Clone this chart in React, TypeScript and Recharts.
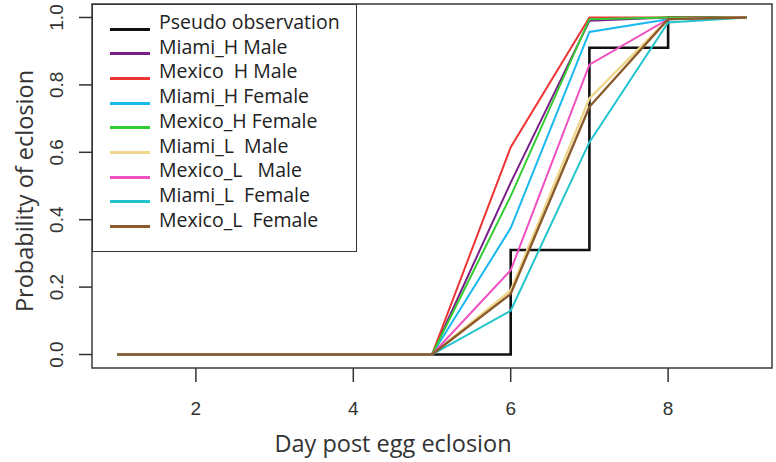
import React from "react";
import { LineChart, Line, XAxis, YAxis, ReferenceArea } from "recharts";

const days = [1, 2, 3, 4, 5, 6, 7, 8, 9];
const pseudoObservation = [0, 0, 0, 0, 0, 0.31, 0.91, 1, 1];
const miamiHMale = [0, 0, 0, 0, 0, 0.51, 0.99, 1, 1];
const mexicoHMale = [0, 0, 0, 0, 0, 0.615, 1, 1, 1];
const miamiHFemale = [0, 0, 0, 0, 0, 0.375, 0.957, 0.995, 1];
const mexicoHFemale = [0, 0, 0, 0, 0, 0.47, 0.995, 1, 1];
const miamiLMale = [0, 0, 0, 0, 0, 0.19, 0.76, 0.995, 1];
const mexicoLMale = [0, 0, 0, 0, 0, 0.25, 0.86, 0.995, 1];
const miamiLFemale = [0, 0, 0, 0, 0, 0.13, 0.63, 0.985, 1];
const mexicoLFemale = [0, 0, 0, 0, 0, 0.18, 0.735, 0.995, 1];

const xTicks = [2, 4, 6, 8];
const yTicks = [0, 0.2, 0.4, 0.6, 0.8, 1.0];

const series = [
  { key: "pseudo", name: "Pseudo observation", values: pseudoObservation, color: "#111111", width: 2.6, step: true },
  { key: "miamiHM", name: "Miami_H Male", values: miamiHMale, color: "#7a1f8a", width: 2 },
  { key: "mexicoHM", name: "Mexico  H Male", values: mexicoHMale, color: "#ee3535", width: 2 },
  { key: "miamiHF", name: "Miami_H Female", values: miamiHFemale, color: "#1ab8f0", width: 2 },
  { key: "mexicoHF", name: "Mexico_H Female", values: mexicoHFemale, color: "#33cc33", width: 2 },
  { key: "miamiLM", name: "Miami_L  Male", values: miamiLMale, color: "#f0d68a", width: 2.4 },
  { key: "mexicoLM", name: "Mexico_L   Male", values: mexicoLMale, color: "#f050c0", width: 2 },
  { key: "miamiLF", name: "Miami_L  Female", values: miamiLFemale, color: "#22c4cc", width: 2 },
  { key: "mexicoLF", name: "Mexico_L  Female", values: mexicoLFemale, color: "#8b5a2b", width: 2.4 },
];

const data = days.map((d, i) => {
  const row: Record<string, number> = { day: d };
  series.forEach((s) => {
    row[s.key] = s.values[i];
  });
  return row;
});

const labelFont = "'Open Sans', Lato, sans-serif";
const tickFont = "'Liberation Sans', Arial, sans-serif";

const XTick = (props: any) => {
  const { x, payload } = props;
  return (
    <text x={x} y={408} textAnchor="middle" dominantBaseline="central" fontFamily={tickFont} fontSize={19} fill="#333">
      {payload.value}
    </text>
  );
};

const YTick = (props: any) => {
  const { y, payload } = props;
  const cx = 57;
  return (
    <text
      x={cx}
      y={y}
      textAnchor="middle"
      dominantBaseline="central"
      fontFamily={tickFont}
      fontSize={19}
      fill="#333"
      transform={`rotate(-90 ${cx} ${y})`}
    >
      {Number(payload.value).toFixed(1)}
    </text>
  );
};

const LegendBox = () => (
  <div
    style={{
      position: "absolute",
      left: 92,
      top: 4,
      width: 265,
      height: 248,
      border: "1.5px solid #333",
      background: "#fff",
      boxSizing: "border-box",
      fontFamily: labelFont,
      fontSize: 19.5,
      color: "#222",
    }}
  >
    {series.map((s, i) => {
      const ly = 24 + i * 24.7;
      return (
        <React.Fragment key={s.key}>
          <div
            style={{
              position: "absolute",
              left: 17,
              top: ly - 1.5,
              width: 40,
              height: 3,
              background: s.color,
            }}
          />
          <div
            style={{
              position: "absolute",
              left: 66,
              top: ly - 18,
              lineHeight: "22px",
              whiteSpace: "pre",
            }}
          >
            {s.name}
          </div>
        </React.Fragment>
      );
    })}
  </div>
);

export default function App() {
  return (
    <div style={{ position: "absolute", left: 0, top: 0, width: 776, height: 462, background: "#fff" }}>
      <LineChart width={776} height={462} data={data} margin={{ top: 4, right: 4, bottom: 0, left: 0 }}>
        <XAxis
          dataKey="day"
          type="number"
          domain={[0.68, 9.32]}
          ticks={xTicks}
          allowDataOverflow
          height={94}
          axisLine={false}
          tickLine={{ stroke: "#333", strokeWidth: 1.5 }}
          tickSize={14}
          tick={<XTick />}
        />
        <YAxis
          type="number"
          domain={[-0.04, 1.04]}
          ticks={yTicks}
          allowDataOverflow
          width={92}
          axisLine={false}
          tickLine={{ stroke: "#333", strokeWidth: 1.5 }}
          tickSize={13}
          tick={<YTick />}
        />
        <ReferenceArea
          x1={0.68}
          x2={9.32}
          y1={-0.04}
          y2={1.04}
          fill="none"
          stroke="#3a3a3a"
          strokeWidth={1.5}
          ifOverflow="visible"
        />
        {series.map((s) => (
          <Line
            key={s.key}
            dataKey={s.key}
            name={s.name}
            type={s.step ? "stepAfter" : "linear"}
            stroke={s.color}
            strokeWidth={s.width}
            dot={false}
            activeDot={false}
            isAnimationActive={false}
          />
        ))}
        <text
          x={24}
          y={191}
          textAnchor="middle"
          dominantBaseline="central"
          fontFamily={labelFont}
          fontSize={23.5}
          fill="#333"
          transform="rotate(-90 24 191)"
        >
          Probability of eclosion
        </text>
        <text x={393} y={452} textAnchor="middle" fontFamily={labelFont} fontSize={23.5} fill="#333">
          Day post egg eclosion
        </text>
      </LineChart>
      <LegendBox />
    </div>
  );
}
